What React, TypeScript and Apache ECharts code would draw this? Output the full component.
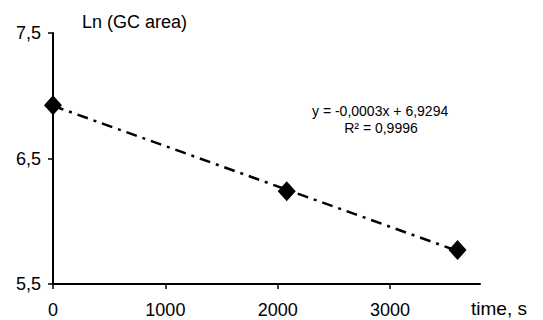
import React, { useEffect, useRef } from "react";
import * as echarts from "echarts";

const timeS = [0, 2080, 3600];
const lnArea = [6.925, 6.24, 5.77];
const xTickValues = [0, 1000, 2000, 3000];
const yTickValues = [5.5, 6.5, 7.5];
const xMax = 3800;
const titleText = "Ln (GC area)";
const xName = "time, s";
const equationText = "y = -0,0003x + 6,9294";
const r2Text = "R\u00B2 = 0,9996";

const FONT = "'Liberation Sans', Arial, sans-serif";

export default function App() {
  const ref = useRef<HTMLDivElement>(null);
  useEffect(() => {
    if (!ref.current) return;
    const chart = echarts.init(ref.current, undefined, { renderer: "svg" });
    const n = timeS.length;
    const mx = timeS.reduce((a, b) => a + b, 0) / n;
    const my = lnArea.reduce((a, b) => a + b, 0) / n;
    let sxx = 0;
    let sxy = 0;
    for (let i = 0; i < n; i++) {
      sxx += (timeS[i] - mx) ** 2;
      sxy += (timeS[i] - mx) * (lnArea[i] - my);
    }
    const slope = sxy / sxx;
    const intercept = my - slope * mx;
    const x0 = Math.min(...timeS);
    const x1 = Math.max(...timeS);
    const trend = [
      [x0, intercept + slope * x0],
      [x1, intercept + slope * x1],
    ];
    chart.setOption({
      animation: false,
      backgroundColor: "#ffffff",
      grid: { left: 53, top: 33, right: 63, bottom: 36, containLabel: false },
      xAxis: {
        type: "value",
        min: 0,
        max: xMax,
        interval: 1000,
        splitLine: { show: false },
        axisLine: { show: true, onZero: false, lineStyle: { color: "#000", width: 2 } },
        axisTick: { show: true, length: 5, customValues: xTickValues, lineStyle: { color: "#000", width: 1.5 } },
        axisLabel: {
          customValues: xTickValues,
          margin: 17,
          color: "#000",
          fontSize: 18,
          fontFamily: FONT,
          formatter: (v: number) => String(v),
        },
      },
      yAxis: {
        type: "value",
        min: 5.5,
        max: 7.5,
        interval: 1,
        splitLine: { show: false },
        axisLine: { show: true, onZero: false, lineStyle: { color: "#000", width: 2 } },
        axisTick: { show: true, length: 5, customValues: yTickValues, lineStyle: { color: "#000", width: 1.5 } },
        axisLabel: {
          customValues: yTickValues,
          margin: 12,
          color: "#000",
          fontSize: 18,
          fontFamily: FONT,
          formatter: (v: number) => v.toFixed(1).replace(".", ","),
        },
      },
      series: [
        {
          type: "line",
          data: trend,
          symbol: "none",
          lineStyle: { color: "#000", width: 2.5, type: [11, 6, 3, 6] },
          z: 2,
        },
        {
          type: "scatter",
          data: timeS.map((t, i) => [t, lnArea[i]]),
          symbol: "diamond",
          symbolSize: [18, 20],
          itemStyle: { color: "#000", opacity: 1 },
          z: 3,
        },
      ],
      graphic: [
        {
          type: "text",
          x: 82,
          y: 22,
          style: { text: titleText, font: `18px ${FONT}`, fill: "#000", align: "left", verticalAlign: "middle" },
        },
        {
          type: "text",
          x: 471,
          y: 308,
          style: { text: xName, font: `19px ${FONT}`, fill: "#000", align: "left", verticalAlign: "middle" },
        },
        {
          type: "text",
          x: 312,
          y: 111,
          style: { text: equationText, font: `14px ${FONT}`, fill: "#000", align: "left", verticalAlign: "middle" },
        },
        {
          type: "text",
          x: 381,
          y: 128,
          style: { text: r2Text, font: `14px ${FONT}`, fill: "#000", align: "center", verticalAlign: "middle" },
        },
      ],
    });
    return () => chart.dispose();
  }, []);
  return (
    <div
      ref={ref}
      style={{ position: "absolute", left: 0, top: 0, width: 543, height: 320 }}
    />
  );
}
